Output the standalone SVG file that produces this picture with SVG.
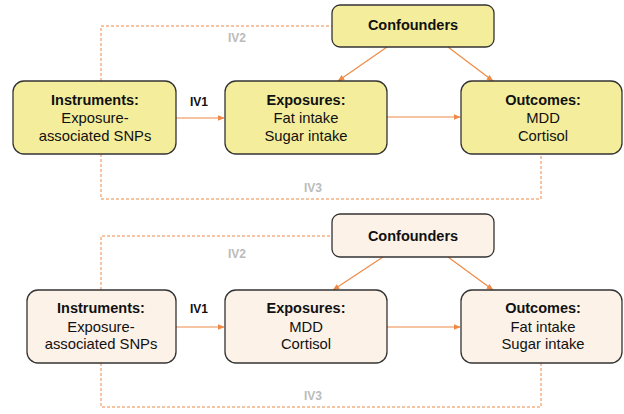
<svg xmlns="http://www.w3.org/2000/svg" width="624" height="414" viewBox="0 0 624 414">
<style>
.box{stroke:#333;stroke-width:1.3}
.y{fill:#F4EE9C}
.b{fill:#FCF2E8}
text{font-family:"Liberation Sans",Arial,sans-serif;fill:#111;text-anchor:middle}
.t{font-size:14.5px;font-weight:bold}
.n{font-size:14.8px}
.lab{font-size:12px;font-weight:bold}
.g{fill:#BBBBBB}
.a{stroke:#EE8A46;stroke-width:1.2;fill:none}
.d{stroke:#EE8A46;stroke-width:1;fill:none;stroke-dasharray:3,2}
</style>
<defs>
<marker id="ah" viewBox="0 0 10 10" refX="9" refY="5" markerWidth="7" markerHeight="7" orient="auto" markerUnits="userSpaceOnUse">
<path d="M0,1 L10,5 L0,9 z" fill="#EE8A46"/>
</marker>
</defs>
<rect width="624" height="414" fill="#fff"/>
<g id="connectors">
<path class="d" d="M101,81 V26 H332"/>
<path class="d" d="M101,154 V199 H541 V154"/>
<line class="a" x1="176" y1="118" x2="224" y2="118" marker-end="url(#ah)"/>
<line class="a" x1="387" y1="117" x2="460" y2="117" marker-end="url(#ah)"/>
<line class="a" x1="387" y1="47" x2="338" y2="81" marker-end="url(#ah)"/>
<line class="a" x1="448" y1="47" x2="493" y2="81" marker-end="url(#ah)"/>
<path class="d" d="M101,290 V236 H332"/>
<path class="d" d="M101,363 V407 H541 V363"/>
<line class="a" x1="176" y1="327" x2="224" y2="327" marker-end="url(#ah)"/>
<line class="a" x1="387" y1="327" x2="460" y2="327" marker-end="url(#ah)"/>
<line class="a" x1="383" y1="257" x2="333" y2="290" marker-end="url(#ah)"/>
<line class="a" x1="448" y1="257" x2="493" y2="290" marker-end="url(#ah)"/>
<text class="lab" x="199" y="106">IV1</text>
<text class="lab g" x="237" y="42">IV2</text>
<text class="lab g" x="313" y="192">IV3</text>
<text class="lab" x="199" y="313">IV1</text>
<text class="lab g" x="237" y="258">IV2</text>
<text class="lab g" x="313" y="400">IV3</text>
</g>
<g id="instruments1">
<rect class="box y" x="13" y="81" width="163" height="73" rx="11"/>
<text class="t" x="95" y="105">Instruments:</text>
<text class="n" x="95" y="123">Exposure-</text>
<text class="n" x="95" y="141">associated SNPs</text>
</g>
<g id="exposures1">
<rect class="box y" x="225" y="81" width="162" height="73" rx="11"/>
<text class="t" x="306" y="105">Exposures:</text>
<text class="n" x="306" y="123">Fat intake</text>
<text class="n" x="306" y="141">Sugar intake</text>
</g>
<g id="confounders1">
<rect class="box y" x="332" y="5" width="162" height="42" rx="8"/>
<text class="t" x="413" y="30">Confounders</text>
</g>
<g id="outcomes1">
<rect class="box y" x="461" y="81" width="161" height="73" rx="11"/>
<text class="t" x="543" y="105">Outcomes:</text>
<text class="n" x="543" y="123">MDD</text>
<text class="n" x="543" y="141">Cortisol</text>
</g>
<g id="instruments2">
<rect class="box b" x="27" y="290" width="149" height="73" rx="11"/>
<text class="t" x="101" y="313">Instruments:</text>
<text class="n" x="101" y="332">Exposure-</text>
<text class="n" x="101" y="349">associated SNPs</text>
</g>
<g id="exposures2">
<rect class="box b" x="225" y="290" width="162" height="73" rx="11"/>
<text class="t" x="306" y="313">Exposures:</text>
<text class="n" x="306" y="332">MDD</text>
<text class="n" x="306" y="349">Cortisol</text>
</g>
<g id="confounders2">
<rect class="box b" x="332" y="214" width="162" height="43" rx="8"/>
<text class="t" x="413" y="241">Confounders</text>
</g>
<g id="outcomes2">
<rect class="box b" x="461" y="290" width="161" height="73" rx="11"/>
<text class="t" x="543" y="313">Outcomes:</text>
<text class="n" x="543" y="332">Fat intake</text>
<text class="n" x="543" y="349">Sugar intake</text>
</g>
</svg>
